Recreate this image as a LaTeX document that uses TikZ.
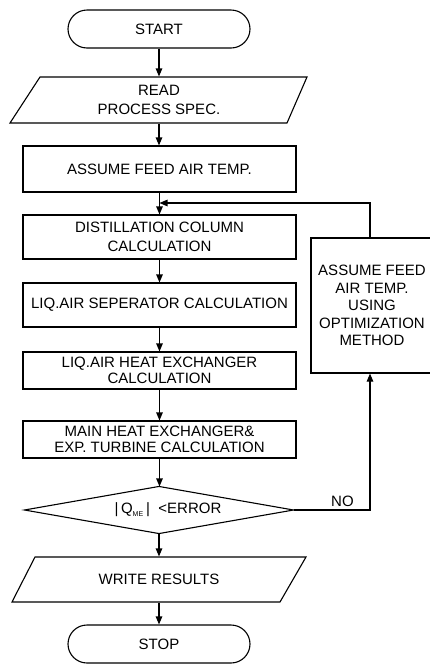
\documentclass[tikz,border=0pt]{standalone}
\usepackage{fontspec}
\setmainfont{Liberation Sans}
\usetikzlibrary{arrows.meta,shapes.misc}
\begin{document}
\begin{tikzpicture}[x=1pt,y=-1pt,line width=1.1pt,
  font=\fontsize{15}{18.5}\selectfont,
  box/.style={draw,rectangle,inner sep=0pt,align=center,minimum width=273pt},
  term/.style={draw,rounded rectangle,inner sep=0pt,align=center,minimum width=182pt,minimum height=38pt},
  ghost/.style={inner sep=0pt,align=center},
  tight/.style={font=\fontsize{15}{16.5}\selectfont},
  arr/.style={-{Triangle[length=8pt,width=6.5pt]}}]
\useasboundingbox (0,0) rectangle (430,665);
\clip (0,0) rectangle (430,665);

\node[term] (start) at (159,29) {START};

\node[ghost,minimum width=260pt,minimum height=46pt] (read) at (159,100) {READ\\PROCESS SPEC.};
\draw (10,123) -- (40,77) -- (307,77) -- (287,123) -- cycle;

\node[box,minimum height=46pt] (assume) at (159.5,169) {ASSUME FEED AIR TEMP.};
\node[box,minimum height=44pt] (dist) at (159.5,237) {DISTILLATION COLUMN\\CALCULATION};
\node[box,minimum height=44pt] (sep) at (159.5,305) {LIQ.AIR SEPERATOR CALCULATION};
\node[box,tight,minimum height=37pt] (lhx) at (159.5,370.5) {LIQ.AIR HEAT EXCHANGER\\CALCULATION};
\node[box,tight,minimum height=37pt] (mhx) at (159.5,439.5) {MAIN HEAT EXCHANGER\&\\EXP. TURBINE CALCULATION};

\node[ghost,minimum width=268pt,minimum height=46pt] (dec) at (159,510) {\hspace*{18pt}|\,Q\textsubscript{\scriptsize ME}\,|\ \ {<}ERROR};
\draw (dec.north) -- (dec.east) -- (dec.south) -- (dec.west) -- cycle;

\node[ghost,minimum width=270pt,minimum height=45pt] (write) at (159,579.5) {WRITE RESULTS};
\draw (12,602) -- (35,557) -- (306,557) -- (280,602) -- cycle;

\node[term] (stop) at (159,644) {STOP};

\node[box,minimum width=122pt,minimum height=135pt,font=\fontsize{15}{17.5}\selectfont] (opt) at (372,305.5) {ASSUME FEED\\AIR TEMP.\\USING\\OPTIMIZATION\\METHOD};
\coordinate (join) at (159.5,203);

\draw[arr] (start.south) -- (start.south |- read.north);
\draw[arr] (read.south) -- (read.south |- assume.north);
\draw[arr] (assume.south) -- (dist.north);
\draw[arr] (dist.south) -- (sep.north);
\draw[arr] (sep.south) -- (lhx.north);
\draw[arr] (lhx.south) -- (mhx.north);
\draw[arr] (mhx.south) -- (mhx.south |- dec.north);
\draw[arr] (dec.south) -- (dec.south |- write.north);
\draw[arr] (write.south) -- (write.south |- stop.north);
\draw[arr] (dec.east) -- (dec.east -| 370,0) node[pos=0.64,above,inner sep=2.5pt] {NO} -- (370,0 |- opt.south);
\draw[arr] (370,0 |- opt.north) -- (370,0 |- join) -- (join);
\end{tikzpicture}
\end{document}
